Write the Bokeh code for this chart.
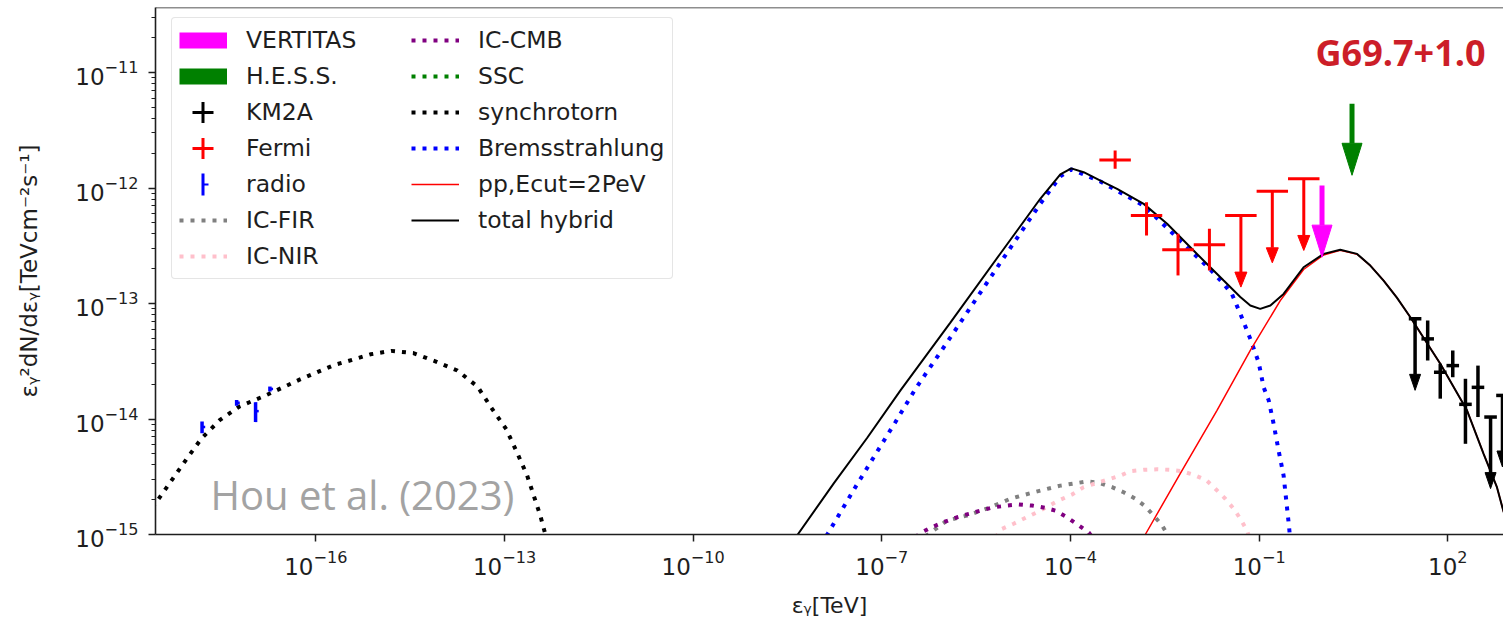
import numpy as np
from bokeh.embed import file_html
from bokeh.models import FixedTicker, Label, Legend, LegendItem, Range1d, Span
from bokeh.plotting import figure
from bokeh.resources import INLINE

# ---------------------------------------------------------------------------
# Model components: photon energy [TeV] and E^2 dN/dE [TeV cm^-2 s^-1]
# ---------------------------------------------------------------------------
sync_e = [2.51e-19, 5.25e-19, 8.71e-19, 1.51e-18, 2.95e-18, 6.17e-18, 1.51e-17,
          5.50e-17, 2.00e-16, 3.16e-16, 7.41e-16, 1.58e-15, 3.55e-15, 7.94e-15,
          1.78e-14, 3.72e-14, 6.31e-14, 1.07e-13, 1.58e-13, 2.29e-13, 3.72e-13,
          4.47e-13, 5.01e-13]
sync_f = [1.70e-15, 3.02e-15, 4.47e-15, 6.76e-15, 9.77e-15, 1.29e-14, 1.58e-14,
          2.19e-14, 2.95e-14, 3.16e-14, 3.63e-14, 3.89e-14, 3.72e-14, 3.16e-14,
          2.63e-14, 1.91e-14, 1.23e-14, 8.13e-15, 5.13e-15, 3.24e-15, 1.45e-15,
          1.00e-15, 6.31e-16]

brems_e = [1.06e-8, 1.40e-8, 3.80e-8, 7.91e-8, 1.64e-7, 3.42e-7, 1.23e-6, 7.69e-6,
           3.33e-5, 6.90e-5, 1.03e-4, 2.99e-4, 1.46e-3, 8.05e-3, 1.67e-2, 2.70e-2,
           3.71e-2, 5.02e-2, 7.24e-2, 9.82e-2, 0.118, 0.142, 0.170, 0.204, 0.245,
           0.270, 0.299, 0.313]
brems_f = [8.04e-16, 1.03e-15, 2.57e-15, 4.93e-15, 9.38e-15, 1.82e-14, 5.08e-14,
           2.26e-13, 7.35e-13, 1.26e-12, 1.45e-12, 1.14e-12, 7.05e-13, 2.88e-13,
           1.97e-13, 1.49e-13, 1.20e-13, 8.15e-14, 4.94e-14, 3.10e-14, 1.88e-14,
           1.45e-14, 9.08e-15, 5.33e-15, 3.24e-15, 1.97e-15, 1.17e-15, 8.87e-16]

total_e = [3.52e-9, 4.60e-9, 1.72e-8, 5.83e-8, 1.98e-7, 1.23e-6, 7.69e-6, 3.33e-5,
           6.90e-5, 1.03e-4, 1.62e-4, 2.99e-4, 5.51e-4, 1.46e-3, 3.44e-3, 8.05e-3,
           1.67e-2, 2.73e-2, 5.02e-2, 7.24e-2, 0.104, 0.151, 0.245, 0.509, 1.06,
           1.95, 3.61, 5.86, 9.53, 15.6, 25.4, 76.0, 202.0, 371.0, 605.0, 762.0,
           986.0]
total_f = [8.04e-16, 1.00e-15, 2.77e-15, 6.85e-15, 1.77e-14, 6.84e-14, 2.71e-13,
           8.11e-13, 1.31e-12, 1.48e-12, 1.37e-12, 1.16e-12, 9.84e-13, 7.29e-13,
           4.90e-13, 3.07e-13, 2.06e-13, 1.58e-13, 1.14e-13, 9.62e-14, 8.99e-14,
           9.62e-14, 1.21e-13, 2.06e-13, 2.69e-13, 2.92e-13, 2.69e-13, 2.13e-13,
           1.58e-13, 1.12e-13, 7.60e-14, 3.01e-14, 1.19e-14, 5.00e-15, 2.57e-15,
           1.61e-15, 1.08e-15]

pp_e = [1.29e-3, 1.55e-3, 5.56e-3, 2.14e-2, 7.24e-2, 0.217, 0.509, 1.06, 1.95,
        3.61, 5.86, 9.53, 15.6, 25.4, 76.0, 202.0, 371.0, 605.0, 762.0, 986.0]
pp_f = [8.18e-16, 1.00e-15, 3.37e-15, 1.19e-14, 3.92e-14, 1.06e-13, 1.97e-13,
        2.63e-13, 2.89e-13, 2.67e-13, 2.13e-13, 1.58e-13, 1.12e-13, 7.60e-14,
        3.01e-14, 1.19e-14, 5.00e-15, 2.57e-15, 1.61e-15, 1.08e-15]

ic_fir_e = [4.93e-7, 1.09e-6, 2.27e-6, 5.33e-6, 1.11e-5, 2.60e-5, 6.90e-5, 1.84e-4,
            2.81e-4, 4.58e-4, 7.01e-4, 1.08e-3, 1.55e-3, 2.10e-3, 2.86e-3, 3.48e-3,
            3.88e-3]
ic_fir_f = [9.62e-16, 1.32e-15, 1.46e-15, 1.72e-15, 2.04e-15, 2.32e-15, 2.65e-15,
            2.88e-15, 2.81e-15, 2.57e-15, 2.32e-15, 2.04e-15, 1.75e-15, 1.46e-15,
            1.20e-15, 1.00e-15, 8.87e-16]

ic_cmb_e = [3.42e-7, 4.11e-7, 6.31e-7, 9.64e-7, 1.57e-6, 2.41e-6, 3.70e-6, 6.01e-6,
            9.82e-6, 1.50e-5, 2.45e-5, 3.99e-5, 5.75e-5, 8.83e-5, 1.35e-4, 1.95e-4,
            2.23e-4]
ic_cmb_f = [9.42e-16, 1.03e-15, 1.16e-15, 1.28e-15, 1.41e-15, 1.51e-15, 1.61e-15,
            1.72e-15, 1.78e-15, 1.82e-15, 1.78e-15, 1.70e-15, 1.61e-15, 1.41e-15,
            1.20e-15, 1.04e-15, 9.42e-16]

ic_nir_e = [6.40e-6, 8.18e-6, 1.25e-5, 2.94e-5, 6.49e-5, 1.06e-4, 1.62e-4, 3.82e-4,
            6.21e-4, 8.95e-4, 1.46e-3, 2.38e-3, 3.87e-3, 5.94e-3, 9.10e-3, 1.46e-2,
            2.01e-2, 2.90e-2, 3.94e-2, 5.02e-2, 6.43e-2, 6.98e-2]
ic_nir_f = [9.42e-16, 1.12e-15, 1.24e-15, 1.56e-15, 1.97e-15, 2.22e-15, 2.57e-15,
            2.98e-15, 3.24e-15, 3.53e-15, 3.63e-15, 3.67e-15, 3.63e-15, 3.53e-15,
            3.29e-15, 2.94e-15, 2.49e-15, 2.04e-15, 1.67e-15, 1.37e-15, 1.08e-15,
            9.42e-16]

# the SSC component stays below the plotted flux range (NaN keeps its key)
ssc_e = [float("nan")]
ssc_f = [float("nan")]

# ---------------------------------------------------------------------------
# Measurements
# ---------------------------------------------------------------------------
radio_e = [1.55e-18, 5.50e-18, 1.10e-17, 1.86e-17]
radio_f = [8.51e-15, 1.38e-14, 1.17e-14, 1.82e-14]
radio_err = [1.0e-15, 0.8e-15, 2.3e-15, 0.9e-15]

fermi_e = [5.13e-4, 1.62e-3, 5.13e-3, 1.62e-2]
fermi_e_lo = [2.88e-4, 9.12e-4, 2.88e-3, 9.12e-3]
fermi_e_hi = [9.12e-4, 2.88e-3, 9.12e-3, 2.88e-2]
fermi_f = [1.75e-12, 5.78e-13, 2.92e-13, 3.22e-13]
fermi_f_lo = [1.47e-12, 3.88e-13, 1.75e-13, 1.93e-13]
fermi_f_hi = [2.11e-12, 7.53e-13, 4.01e-13, 4.44e-13]
fermi_ul_e = [5.13e-2, 1.62e-1, 5.13e-1]
fermi_ul_e_lo = [2.88e-2, 9.12e-2, 2.88e-1]
fermi_ul_e_hi = [9.12e-2, 2.88e-1, 9.12e-1]
fermi_ul = [5.78e-13, 9.38e-13, 1.20e-12]

km2a_e = [47.9, 75.9, 120.0, 191.0, 302.0]
km2a_f = [4.94e-14, 2.54e-14, 2.90e-14, 1.34e-14, 1.88e-14]
km2a_f_lo = [3.21e-14, 1.50e-14, 2.30e-14, 6.10e-15, 1.04e-14]
km2a_f_hi = [7.13e-14, 3.01e-14, 3.92e-14, 2.23e-14, 2.90e-14]
km2a_ul_e = [30.2, 479.0, 741.0]
km2a_ul = [7.38e-14, 1.04e-14, 1.60e-14]
km2a_half_bin_dex = 0.1

veritas_e = [1.0]
veritas_ul = [1.05e-12]
hess_e = [3.0]
hess_ul = [5.37e-12]

# upper-limit arrows point down to this fraction of the limit
UL_DROP = 0.24

x_ticks = [1e-16, 1e-13, 1e-10, 1e-7, 1e-4, 1e-1, 1e2]
y_ticks = [1e-15, 1e-14, 1e-13, 1e-12, 1e-11]

# ---------------------------------------------------------------------------
# Figure
# ---------------------------------------------------------------------------
X_START, X_END = 10 ** -18.55, 10 ** 2.886
Y_START, Y_END = 1e-15, 10 ** -10.437
W, H = 1503, 623
BORDER_L, BORDER_R, BORDER_T, BORDER_B = 155, 0, 7, 89
FRAME_W = W - BORDER_L - BORDER_R
FRAME_H = H - BORDER_T - BORDER_B
PX_PER_DEC_X = FRAME_W / (np.log10(X_END) - np.log10(X_START))
PX_PER_DEC_Y = FRAME_H / (np.log10(Y_END) - np.log10(Y_START))

FONT = "DejaVu Sans"
INK = "#1e1e1e"

p = figure(width=W, height=H, x_axis_type="log", y_axis_type="log",
           x_range=Range1d(X_START, X_END), y_range=Range1d(Y_START, Y_END),
           output_backend="svg", toolbar_location=None,
           min_border_left=BORDER_L, min_border_right=BORDER_R,
           min_border_top=BORDER_T, min_border_bottom=BORDER_B)
p.grid.visible = False
p.outline_line_color = None
p.background_fill_color = "white"
p.border_fill_color = "white"

minor = [k * t for t in [1e-16] + y_ticks for k in range(2, 10)]
p.xaxis.ticker = FixedTicker(ticks=x_ticks, minor_ticks=[])
p.yaxis.ticker = FixedTicker(ticks=y_ticks, minor_ticks=minor)
for ax in (p.xaxis[0], p.yaxis[0]):
    ax.axis_line_color = INK
    ax.axis_line_width = 1.6
    ax.major_tick_line_color = INK
    ax.major_tick_line_width = 1.5
    ax.major_tick_out = 7
    ax.major_tick_in = 0
    ax.minor_tick_line_color = INK
    ax.minor_tick_line_width = 1.2
    ax.minor_tick_out = 4
    ax.minor_tick_in = 0
    ax.major_label_text_font = FONT
    ax.major_label_text_font_size = "23px"
    ax.major_label_text_color = INK
    ax.axis_label_text_font = FONT
    ax.axis_label_text_font_style = "normal"
    ax.axis_label_text_color = INK
p.xaxis.major_label_standoff = 8
p.yaxis.major_label_standoff = 10
p.xaxis.axis_label = "εᵧ[TeV]"
p.xaxis.axis_label_text_font_size = "22px"
p.xaxis.axis_label_standoff = 15
p.yaxis.axis_label = "εᵧ²dN/dεᵧ[TeVcm⁻²s⁻¹]"
p.yaxis.axis_label_text_font_size = "23px"
p.yaxis.axis_label_standoff = 30

# top spine
p.add_layout(Span(location=Y_END, dimension="width", line_color=INK, line_width=1.6))

DOT = dict(line_width=4, line_dash="4 7")

r_fir = p.line(ic_fir_e, ic_fir_f, line_color="gray", **DOT)
r_nir = p.line(ic_nir_e, ic_nir_f, line_color="pink", **DOT)
r_cmb = p.line(ic_cmb_e, ic_cmb_f, line_color="purple", **DOT)
r_ssc = p.line(ssc_e, ssc_f, line_color="green", **DOT)
r_sync = p.line(sync_e, sync_f, line_color="black", **DOT)
r_brems = p.line(brems_e, brems_f, line_color="blue", **DOT)
r_pp = p.line(pp_e, pp_f, line_color="red", line_width=1.5)
r_total = p.line(total_e, total_f, line_color="black", line_width=2)


def down_arrows(e, ul, color, shaft_w, head_half_w, head_len):
    """Vertical arrows from each limit down to UL_DROP * limit."""
    e = np.asarray(e, dtype=float)
    ul = np.asarray(ul, dtype=float)
    tip = ul * UL_DROP
    base = tip * 10 ** (head_len / PX_PER_DEC_Y)
    fx = 10 ** (head_half_w / PX_PER_DEC_X)
    p.segment(x0=e, y0=ul, x1=e, y1=base, line_color=color, line_width=shaft_w)
    p.patches(xs=[[x / fx, x * fx, x] for x in e],
              ys=[[b, b, t] for b, t in zip(base, tip)],
              fill_color=color, line_color=color, line_width=1)


# radio
rad_e = np.asarray(radio_e)
rad_f = np.asarray(radio_f)
rad_err = np.asarray(radio_err)
p.segment(x0=rad_e, y0=rad_f - rad_err, x1=rad_e, y1=rad_f + rad_err,
          line_color="blue", line_width=3.5)
p.segment(x0=rad_e, y0=rad_f, x1=rad_e * 10 ** 0.05, y1=rad_f,
          line_color="blue", line_width=2.5)

# Fermi-LAT
p.segment(x0=fermi_e_lo, y0=fermi_f, x1=fermi_e_hi, y1=fermi_f, line_color="red", line_width=3)
p.segment(x0=fermi_e, y0=fermi_f_lo, x1=fermi_e, y1=fermi_f_hi, line_color="red", line_width=3)
p.segment(x0=fermi_ul_e_lo, y0=fermi_ul, x1=fermi_ul_e_hi, y1=fermi_ul, line_color="red", line_width=3)
down_arrows(fermi_ul_e, fermi_ul, "red", 3, 6, 15)

# KM2A
k_e = np.asarray(km2a_e)
k_fac = 10 ** km2a_half_bin_dex
p.segment(x0=k_e / k_fac, y0=km2a_f, x1=k_e * k_fac, y1=km2a_f, line_color="black", line_width=3.5)
p.segment(x0=k_e, y0=km2a_f_lo, x1=k_e, y1=km2a_f_hi, line_color="black", line_width=3.5)
k_ul_e = np.asarray(km2a_ul_e)
p.segment(x0=k_ul_e / k_fac, y0=km2a_ul, x1=k_ul_e * k_fac, y1=km2a_ul, line_color="black", line_width=3.5)
down_arrows(km2a_ul_e, km2a_ul, "black", 3.5, 5.5, 16)

# VERITAS / H.E.S.S. limits
down_arrows(veritas_e, veritas_ul, "magenta", 5, 10, 32)
down_arrows(hess_e, hess_ul, "green", 5, 10, 32)

# ---------------------------------------------------------------------------
# Legend handles (one NaN point each, so only the key is drawn)
# ---------------------------------------------------------------------------
NAN = [float("nan")]


def key(**kw):
    return p.line(NAN, NAN, **kw)


k_veritas = key(line_color="magenta", line_width=16)
k_hess = key(line_color="green", line_width=16)
k_km2a = [key(line_color="black", line_width=3, line_dash="0 13 21 100"),
          key(line_color="black", line_width=21, line_dash="0 22 3 100")]
k_fermi = [key(line_color="red", line_width=3, line_dash="0 13 21 100"),
           key(line_color="red", line_width=21, line_dash="0 22 3 100")]
k_radio = [key(line_color="blue", line_width=22, line_dash="0 22 3 100"),
           key(line_color="blue", line_width=2, line_dash="0 24 5 100")]

items = [
    LegendItem(label="VERTITAS", renderers=[k_veritas]),
    LegendItem(label="H.E.S.S.", renderers=[k_hess]),
    LegendItem(label="KM2A", renderers=k_km2a),
    LegendItem(label="Fermi", renderers=k_fermi),
    LegendItem(label="radio", renderers=k_radio),
    LegendItem(label="IC-FIR", renderers=[r_fir]),
    LegendItem(label="IC-NIR", renderers=[r_nir]),
    LegendItem(label="IC-CMB", renderers=[r_cmb]),
    LegendItem(label="SSC", renderers=[r_ssc]),
    LegendItem(label="synchrotorn", renderers=[r_sync]),
    LegendItem(label="Bremsstrahlung", renderers=[r_brems]),
    LegendItem(label="pp,Ecut=2PeV", renderers=[r_pp]),
    LegendItem(label="total hybrid", renderers=[r_total]),
]
legend = Legend(items=items, ncols=2, location=(16, 255), margin=0, padding=7,
                spacing=6, glyph_width=48, glyph_height=30, label_height=30,
                label_width=159, label_standoff=19, label_text_font=FONT,
                label_text_font_size="23.5px", label_text_color=INK,
                border_line_color="#cccccc", border_line_width=1.5,
                background_fill_color="white", background_fill_alpha=1.0)
if "border_radius" in Legend.properties():
    legend.border_radius = 4
p.add_layout(legend)

p.add_layout(Label(x=1160, y=482, x_units="screen", y_units="screen",
                   text="G69.7+1.0", text_font="Open Sans", text_font_size="36px",
                   text_font_style="bold", text_color="#cc1e28",
                   text_baseline="alphabetic"))
p.add_layout(Label(x=55, y=40, x_units="screen", y_units="screen",
                   text="Hou et al. (2023)", text_font="Open Sans",
                   text_font_size="40px", text_color="#a3a3a3",
                   text_baseline="alphabetic"))

open("out.html", "w").write(file_html(p, INLINE))
